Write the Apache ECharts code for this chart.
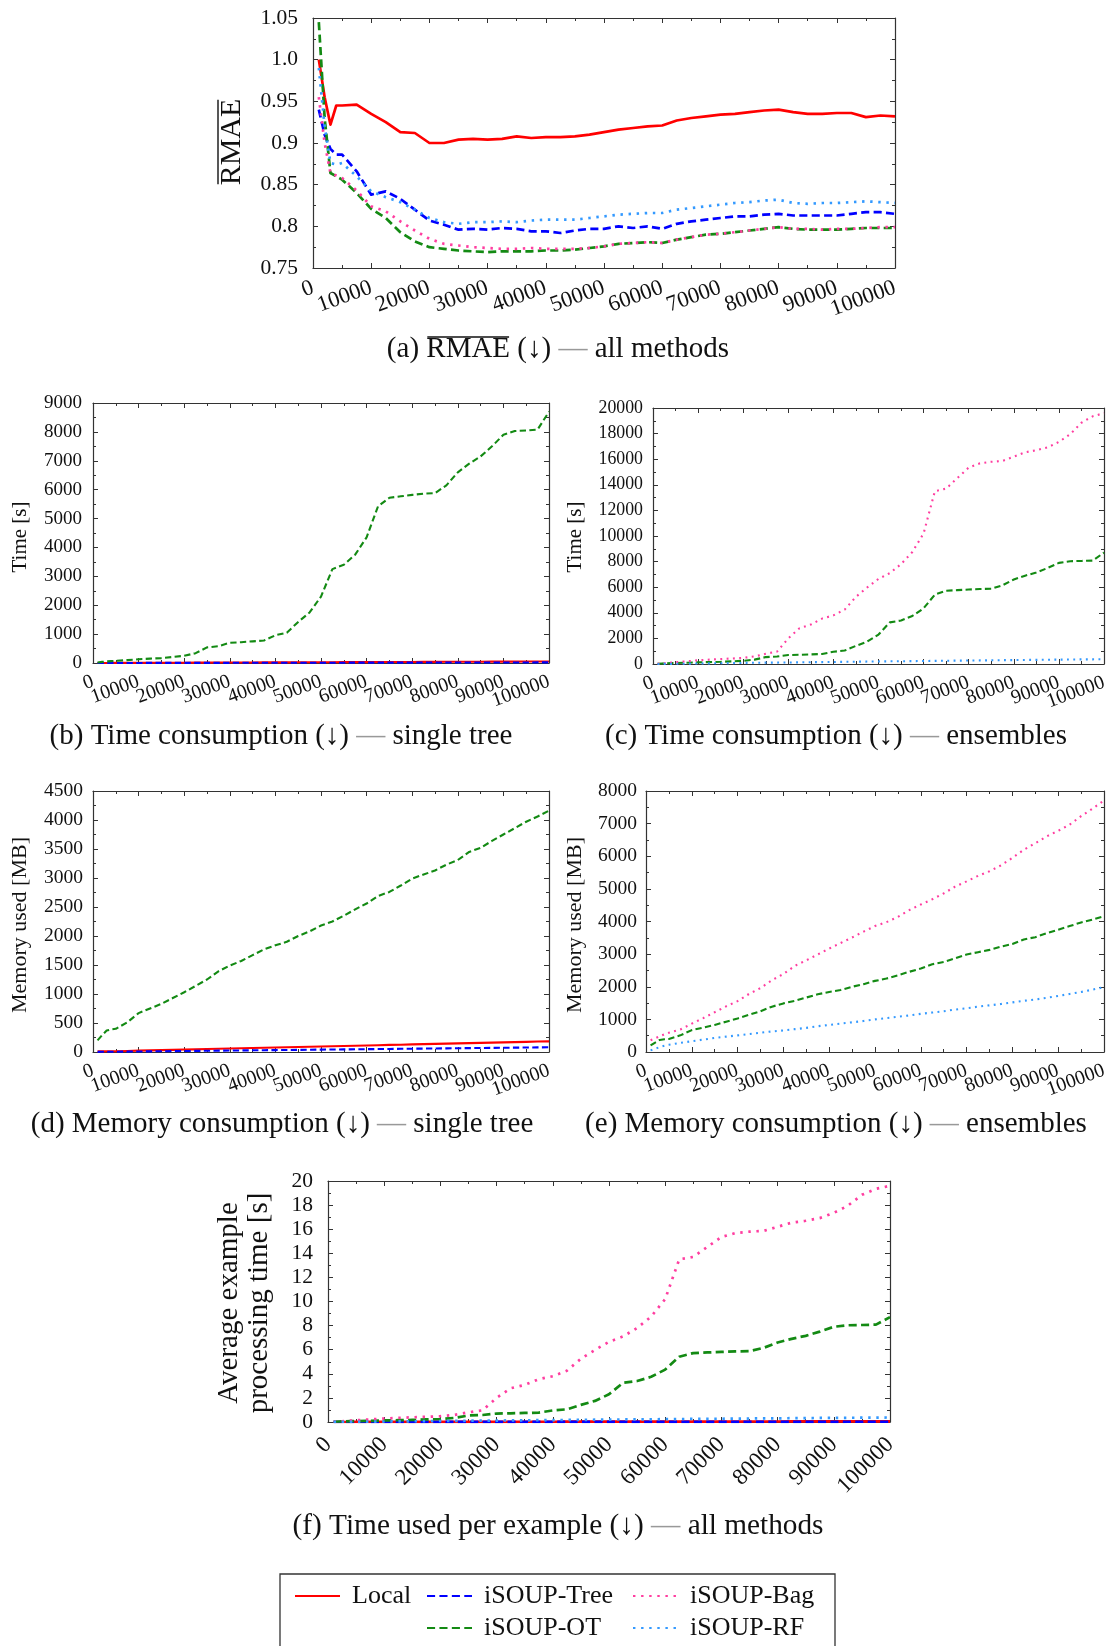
<!DOCTYPE html>
<html><head><meta charset="utf-8">
<script src="https://cdn.jsdelivr.net/npm/echarts@6/dist/echarts.min.js"></script>
<style>html,body{margin:0;padding:0;background:#fff}#c{width:1112px;height:1646px}</style>
</head><body><div id="c"></div><script>
// ---- data ----
const steps = [1000,2000,3000,4000,5000,7500,10000,12500,15000,17500,20000,22500,25000,27500,30000,32500,35000,37500,40000,42500,45000,47500,50000,52500,55000,57500,60000,62500,65000,67500,70000,72500,75000,77500,80000,82500,85000,87500,90000,92500,95000,97500,100000];
const xTickLabels = ['0','10000','20000','30000','40000','50000','60000','70000','80000','90000','100000'];
const rmaeTickLabels = ['0.75','0.8','0.85','0.9','0.95','1.0','1.05'];

const rmaeLocal = [1.0,0.955,0.922,0.945,0.945,0.946,0.935,0.925,0.913,0.912,0.900,0.900,0.904,0.905,0.904,0.905,0.908,0.906,0.907,0.907,0.908,0.910,0.913,0.916,0.918,0.920,0.921,0.927,0.930,0.932,0.934,0.935,0.937,0.939,0.940,0.937,0.935,0.935,0.936,0.936,0.931,0.933,0.932];
const rmaeTree  = [0.94,0.91,0.893,0.886,0.886,0.866,0.838,0.842,0.833,0.820,0.807,0.802,0.796,0.797,0.796,0.798,0.797,0.794,0.794,0.792,0.795,0.797,0.797,0.800,0.798,0.800,0.797,0.803,0.806,0.808,0.810,0.812,0.812,0.814,0.815,0.813,0.813,0.813,0.813,0.815,0.817,0.817,0.815];
const rmaeOT    = [1.045,0.93,0.864,0.860,0.856,0.840,0.821,0.810,0.793,0.782,0.775,0.773,0.771,0.770,0.769,0.770,0.770,0.770,0.771,0.771,0.772,0.774,0.776,0.779,0.780,0.781,0.780,0.784,0.787,0.790,0.791,0.793,0.795,0.797,0.799,0.797,0.796,0.796,0.796,0.797,0.798,0.798,0.798];
const rmaeBag   = [0.955,0.90,0.864,0.861,0.858,0.843,0.824,0.818,0.806,0.795,0.785,0.779,0.777,0.775,0.774,0.773,0.773,0.774,0.773,0.773,0.773,0.774,0.776,0.779,0.780,0.781,0.780,0.784,0.787,0.790,0.791,0.793,0.795,0.797,0.799,0.797,0.797,0.796,0.797,0.797,0.798,0.799,0.799];
const rmaeRF    = [0.99,0.92,0.876,0.874,0.876,0.860,0.842,0.835,0.829,0.820,0.810,0.805,0.803,0.805,0.805,0.806,0.805,0.807,0.808,0.808,0.808,0.810,0.812,0.814,0.815,0.816,0.816,0.820,0.822,0.824,0.826,0.828,0.829,0.831,0.832,0.828,0.827,0.828,0.828,0.829,0.830,0.829,0.828];

const timeLocal = [1,2,2,3,3,4,6,7,8,9,11,12,13,15,16,17,19,20,21,23,24,25,27,28,29,31,32,33,35,36,37,39,40,41,43,44,45,47,48,49,51,52,53];
const timeTree  = [0.5,1,1,1,1.5,2,2,3,3,4,4,5,5,6,6,7,7,8,8,9,9,10,10,11,11,12,12,13,13,14,14,15,15,16,16,17,17,18,18,19,19,20,20];
const timeOT    = [20,40,55,65,75,100,130,150,170,210,250,340,540,580,700,720,750,780,960,1050,1420,1750,2300,3250,3400,3750,4350,5420,5720,5770,5820,5860,5880,6150,6600,6900,7150,7500,7900,8030,8050,8080,8700];
const timeBag   = [20,50,80,110,140,210,290,340,390,430,480,590,800,970,2000,2800,3080,3550,3800,4250,5250,5980,6650,7100,7800,8750,10200,13500,13700,14530,15350,15680,15800,15860,16200,16540,16700,16920,17350,17950,18850,19350,19600];
const timeRF    = [3,6,9,12,15,25,40,50,60,70,85,95,105,110,120,130,140,150,160,170,180,190,200,210,215,225,235,245,255,265,270,280,290,300,305,315,325,335,340,350,360,365,375];

const memLocal = [10,11,12,13,14,18,24,28,33,37,42,46,51,55,60,64,69,73,77,82,86,91,95,99,104,108,113,117,122,126,131,135,140,144,148,153,157,162,166,171,175,180,184];
const memTree  = [3,4,4,5,5,7,9,11,13,15,17,19,21,23,25,27,29,31,33,35,37,39,41,43,45,47,49,51,53,55,57,59,61,63,65,67,69,71,73,75,77,79,81];
const memOT    = [200,290,370,390,400,510,670,750,830,930,1030,1140,1250,1390,1490,1570,1670,1770,1840,1900,2000,2080,2180,2250,2350,2460,2560,2690,2760,2870,2990,3060,3130,3230,3310,3450,3520,3640,3750,3860,3970,4060,4160];
const memBag   = [360,420,480,540,590,690,870,1040,1220,1400,1560,1780,1960,2200,2390,2640,2810,2990,3170,3340,3510,3690,3860,3980,4140,4350,4520,4680,4860,5070,5230,5400,5540,5720,5950,6200,6400,6610,6780,6970,7230,7460,7710];
const memRF    = [50,100,150,190,220,280,330,380,430,470,510,550,590,630,660,700,740,790,830,870,910,950,1000,1040,1080,1120,1170,1210,1250,1300,1340,1390,1430,1470,1520,1570,1610,1660,1720,1780,1840,1910,1990];

const peLocal = [0.001,0.002,0.002,0.003,0.003,0.004,0.006,0.007,0.008,0.009,0.011,0.012,0.013,0.015,0.016,0.017,0.019,0.02,0.021,0.023,0.024,0.025,0.027,0.028,0.029,0.031,0.032,0.033,0.035,0.036,0.037,0.039,0.04,0.041,0.043,0.044,0.045,0.047,0.048,0.049,0.051,0.052,0.053];
const peTree  = [0.0005,0.001,0.001,0.001,0.0015,0.002,0.002,0.003,0.003,0.004,0.004,0.005,0.005,0.006,0.006,0.007,0.007,0.008,0.008,0.009,0.009,0.01,0.01,0.011,0.011,0.012,0.012,0.013,0.013,0.014,0.014,0.015,0.015,0.016,0.016,0.017,0.017,0.018,0.018,0.019,0.019,0.02,0.02];
const peOT    = [0.02,0.04,0.055,0.065,0.075,0.1,0.13,0.15,0.17,0.21,0.25,0.34,0.54,0.58,0.7,0.72,0.75,0.78,0.96,1.05,1.42,1.75,2.3,3.25,3.4,3.75,4.35,5.42,5.72,5.77,5.82,5.86,5.88,6.15,6.6,6.9,7.15,7.5,7.9,8.03,8.05,8.08,8.7];
const peBag   = [0.02,0.05,0.08,0.11,0.14,0.21,0.29,0.34,0.39,0.43,0.48,0.59,0.8,0.97,2.0,2.8,3.08,3.55,3.8,4.25,5.25,5.98,6.65,7.1,7.8,8.75,10.2,13.5,13.7,14.53,15.35,15.68,15.8,15.86,16.2,16.54,16.7,16.92,17.35,17.95,18.85,19.35,19.6];
const peRF    = [0.003,0.006,0.009,0.012,0.015,0.025,0.04,0.05,0.06,0.07,0.085,0.095,0.105,0.11,0.12,0.13,0.14,0.15,0.16,0.17,0.18,0.19,0.2,0.21,0.215,0.225,0.235,0.245,0.255,0.265,0.27,0.28,0.29,0.3,0.305,0.315,0.325,0.335,0.34,0.35,0.36,0.365,0.375];

// ---- styling / layout ----
const F = 'Liberation Serif';
const METHOD = {
  'Local':      {color:'#ff0000', kind:'solid'},
  'iSOUP-Tree': {color:'#0000ff', kind:'dash'},
  'iSOUP-OT':   {color:'#138a13', kind:'dash'},
  'iSOUP-Bag':  {color:'#ff3ea0', kind:'dot'},
  'iSOUP-RF':   {color:'#3399ff', kind:'dot'}
};
const panels = [
  {grid:{left:313,top:18,width:582,height:250}, ymin:0.75,ymax:1.05,yint:0.05, fs:21.5, xfs:22.5, ym:15, xrot:20, xm:19, lw:2.7,
   yfmt:v=>rmaeTickLabels[Math.round((v-0.75)/0.05)],
   series:[['Local',rmaeLocal],['iSOUP-Tree',rmaeTree],['iSOUP-OT',rmaeOT],['iSOUP-Bag',rmaeBag],['iSOUP-RF',rmaeRF]]},
  {grid:{left:93,top:403,width:456,height:260}, ymin:0,ymax:9000,yint:1000, fs:19, xfs:20, ym:11, xrot:20, xm:18, lw:2.1,
   series:[['Local',timeLocal],['iSOUP-Tree',timeTree],['iSOUP-OT',timeOT]]},
  {grid:{left:653,top:408,width:451,height:256}, ymin:0,ymax:20000,yint:2000, fs:17.8, xfs:20, ym:10, xrot:20, xm:18, lw:2.1,
   series:[['iSOUP-OT',timeOT],['iSOUP-Bag',timeBag],['iSOUP-RF',timeRF]]},
  {grid:{left:93,top:791,width:456,height:261}, ymin:0,ymax:4500,yint:500, fs:19.5, xfs:20, ym:10, xrot:20, xm:18, lw:2.1,
   series:[['Local',memLocal],['iSOUP-Tree',memTree],['iSOUP-OT',memOT]]},
  {grid:{left:646,top:791,width:458,height:261}, ymin:0,ymax:8000,yint:1000, fs:19.5, xfs:20, ym:9, xrot:20, xm:18, lw:2.1,
   series:[['iSOUP-OT',memOT],['iSOUP-Bag',memBag],['iSOUP-RF',memRF]]},
  {grid:{left:328,top:1181,width:562,height:241}, ymin:0,ymax:20,yint:2, fs:21.5, xfs:23, ym:15, xrot:45, xm:19, lw:2.7,
   series:[['Local',peLocal],['iSOUP-Tree',peTree],['iSOUP-OT',peOT],['iSOUP-Bag',peBag],['iSOUP-RF',peRF]]}
];

const AX = '#333';
const grids=[], xAxis=[], yAxis=[], series=[];
panels.forEach((p,g)=>{
  grids.push(Object.assign({containLabel:false}, p.grid));
  const base = {gridIndex:g, type:'value', splitLine:{show:false},
    axisLine:{show:true,onZero:false,lineStyle:{color:AX,width:1.2}},
    axisTick:{show:true,inside:true,length:5,lineStyle:{color:AX,width:1}},
    minorTick:{show:true,splitNumber:2,length:3,lineStyle:{color:AX,width:1}}};
  const xb = {min:0,max:100000,interval:10000};
  const xl = parity => ({rotate:p.xrot, margin:p.xm, fontFamily:F, fontSize:p.xfs, color:'#111',
      showMinLabel:true, showMaxLabel:true, hideOverlap:false,
      formatter:v=>{const k=Math.round(v/10000); return (k%2===parity) ? xTickLabels[k] : '';}});
  // main bottom axis: even-indexed tick labels
  xAxis.push(Object.assign({}, base, xb, {position:'bottom', axisLabel:xl(0)}));
  // second bottom axis (same scale): odd-indexed tick labels only
  xAxis.push(Object.assign({}, base, xb, {position:'bottom', offset:0, axisLine:{show:false}, axisTick:{show:false},
    minorTick:{show:false}, axisLabel:xl(1)}));
  // top mirror axis
  xAxis.push(Object.assign({}, base, xb, {position:'top', axisLabel:{show:false}}));
  const yb = {min:p.ymin,max:p.ymax,interval:p.yint};
  yAxis.push(Object.assign({}, base, yb, {position:'left',
    axisLabel:{margin:p.ym, fontFamily:F, fontSize:p.fs, color:'#111', showMinLabel:true, showMaxLabel:true,
      formatter:p.yfmt ? p.yfmt : (v=>String(Math.round(v)))}}));
  yAxis.push(Object.assign({}, base, yb, {position:'right', axisLabel:{show:false}}));
  p.series.forEach(([name,arr])=>{
    const m = METHOD[name], w = p.lw;
    const type = m.kind==='solid' ? 'solid' : (m.kind==='dash' ? [w*3, w*1.6] : [w*0.9, w*2.1]);
    series.push({type:'line', name, xAxisIndex:3*g, yAxisIndex:2*g, symbol:'none', silent:true,
      data: steps.map((x,i)=>[x,arr[i]]),
      lineStyle:{color:m.color, width:w, type, cap:'butt', join:'round'},
      itemStyle:{color:m.color}, animation:false});
  });
});

// ---- texts ----
const mctx = document.createElement('canvas').getContext('2d');
function tw(t,size){ mctx.font = size+'px "'+F+'"'; return mctx.measureText(t).width; }
function caption(x,y,label,rest,size){
  return {type:'text', x, y, z:10, style:{
    text:'{n|'+label+'}{g|\u2014}{n|'+rest+'}', align:'center', verticalAlign:'middle',
    rich:{n:{fontFamily:F,fontSize:size,fill:'#111'}, g:{fontFamily:F,fontSize:size,fill:'#999'}}}};
}
function yname(x,y,text,size,lh){
  return {type:'text', x, y, rotation:Math.PI/2, z:10, style:{text, align:'center', verticalAlign:'middle',
    font: size+'px "'+F+'"', fill:'#111', lineHeight: lh||size}};
}
function hline(x1,y1,x2,y2){ return {type:'line', z:11, shape:{x1,y1,x2,y2}, style:{stroke:'#111', lineWidth:1.4}}; }

const capA = {size:29, cx:558, cy:349, pre:'(a) ', ov:'RMAE', mid:' (\u2193) ', dash:'\u2014', post:' all methods'};
const capAW = tw(capA.pre+capA.ov+capA.mid+capA.dash+capA.post, capA.size);
const capAx0 = capA.cx - capAW/2 + tw(capA.pre, capA.size);
const capAx1 = capAx0 + tw(capA.ov, capA.size);
const ynA = {size:30, cx:232, cy:142, text:'RMAE'};
const ynAW = tw(ynA.text, ynA.size);

const graphic = [
  caption(capA.cx,capA.cy,capA.pre+capA.ov+capA.mid,capA.post,capA.size),
  hline(capAx0+1,337,capAx1-1,337),
  caption(281,736,'(b) Time consumption (\u2193) ',' single tree',29),
  caption(836,736,'(c) Time consumption (\u2193) ',' ensembles',29),
  caption(282,1124,'(d) Memory consumption (\u2193) ',' single tree',29),
  caption(836,1124,'(e) Memory consumption (\u2193) ',' ensembles',29),
  caption(558,1526,'(f) Time used per example (\u2193) ',' all methods',29.3),
  yname(ynA.cx,ynA.cy,ynA.text,ynA.size),
  hline(218,ynA.cy-ynAW/2+1,218,ynA.cy+ynAW/2-1),
  yname(20,537,'Time [s]',21),
  yname(575,537,'Time [s]',21),
  yname(20,925,'Memory used [MB]',22),
  yname(575,925,'Memory used [MB]',22),
  yname(244,1303,'Average example\nprocessing time [s]',29,30),
  {type:'rect', shape:{x:280,y:1574,width:555,height:120}, style:{fill:'none',stroke:'#333',lineWidth:1.3}, z:1}
];

const legBase = {orient:'vertical', itemWidth:45, itemHeight:14, itemGap:0, padding:0, selectedMode:false,
  itemStyle:{opacity:0},
  textStyle:{fontFamily:F, fontSize:26, color:'#111', lineHeight:32, padding:[0,0,0,7]}};
const legend = [
  Object.assign({}, legBase, {data:['Local'], left:294, top:1580}),
  Object.assign({}, legBase, {data:['iSOUP-Tree','iSOUP-OT'], left:426, top:1580}),
  Object.assign({}, legBase, {data:['iSOUP-Bag','iSOUP-RF'], left:632, top:1580})
];

const chart = echarts.init(document.getElementById('c'), null, {renderer:'canvas'});
chart.setOption({animation:false, backgroundColor:'#fff', grid:grids, xAxis, yAxis, series, graphic, legend});
</script></body></html>
